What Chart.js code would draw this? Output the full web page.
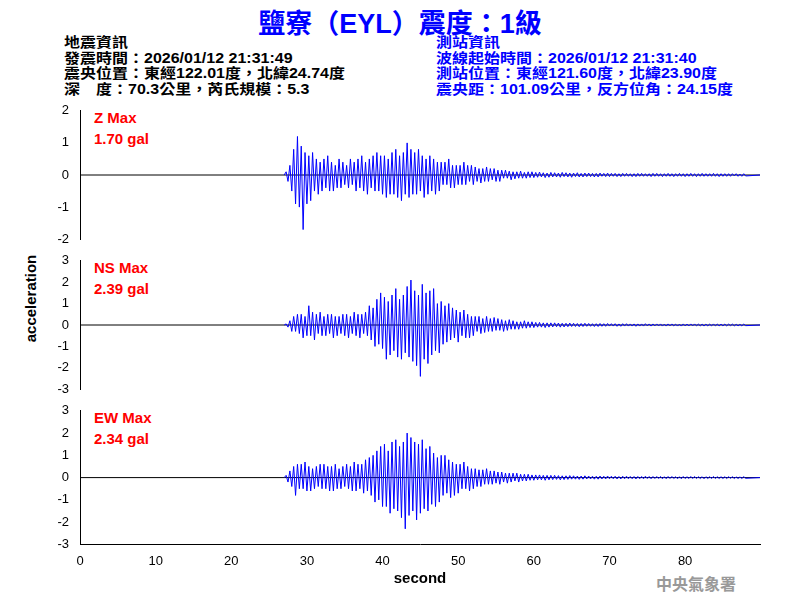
<!DOCTYPE html>
<html><head><meta charset="utf-8">
<script src="https://cdn.jsdelivr.net/npm/chart.js@4"></script>
<style>
body{margin:0;width:800px;height:600px;background:#fff;position:relative;overflow:hidden;font-family:"Liberation Sans",Arial,sans-serif}
.t{position:absolute;white-space:nowrap}
canvas{position:absolute}
.info{font-size:16px;font-weight:bold;line-height:18px;transform:scaleY(0.866);transform-origin:0 0;font-family:"Liberation Sans","Noto Sans CJK TC",sans-serif}
.lab{color:#f00;font-size:15px;font-weight:bold;line-height:21px}
</style></head><body>
<div class="t" style="left:0;width:800px;top:2px;text-align:center;color:#0000ff;font-size:27px;font-weight:bold;font-family:'Liberation Sans','Noto Sans CJK TC',sans-serif">鹽寮（EYL）震度：1級</div>
<div class="t info" style="left:64px;top:35px;color:#000">地震資訊<br>發震時間：2026/01/12 21:31:49<br>震央位置：東經122.01度，北緯24.74度<br>深　度：70.3公里，芮氏規模：5.3</div>
<div class="t info" style="left:436px;top:35px;color:#0000ff">測站資訊<br>波線起始時間：2026/01/12 21:31:40<br>測站位置：東經121.60度，北緯23.90度<br>震央距：101.09公里，反方位角：24.15度</div>
<div class="t lab" style="left:94px;top:107px">Z Max<br>1.70 gal</div>
<div class="t lab" style="left:94px;top:257px">NS Max<br>2.39 gal</div>
<div class="t lab" style="left:94px;top:407px">EW Max<br>2.34 gal</div>
<div class="t" style="left:-20px;top:290px;width:100px;text-align:center;transform:rotate(-90deg);font-size:15px;font-weight:bold">acceleration</div>
<div class="t" style="left:656px;top:571px;color:#999;font-size:16px;font-weight:bold;font-family:'Noto Sans CJK TC',serif">中央氣象署</div>
<canvas id="c0"></canvas><canvas id="c1"></canvas><canvas id="c2"></canvas>
<script>
const startTime = 27.0, dt = 0.25, endTime = 89.9;
const zValues = [0.1,-0.2,0.3,-0.5, 0.8,-0.9,1.2,-1.0, 0.9,-1.7,0.7,-0.9, 0.6,-0.8,0.7,-0.5, 0.5,-0.6,0.4,-0.5,
 0.5,-0.4,0.6,-0.5, 0.4,-0.5,0.3,-0.4, 0.5,-0.4,0.4,-0.3, 0.3,-0.4,0.5,-0.3, 0.4,-0.5,0.5,-0.4,
 0.6,-0.5,0.4,-0.6, 0.5,-0.4,0.6,-0.5, 0.7,-0.5,0.6,-0.6, 0.6,-0.7,0.5,-0.6, 0.7,-0.6,0.8,-0.7,
 0.6,-0.8,0.7,-0.6, 1.0,-0.7,0.8,-0.6, 0.7,-0.6,0.8,-0.5, 0.6,-0.7,0.5,-0.6, 0.6,-0.5,0.5,-0.6,
 0.4,-0.5,0.4,-0.3, 0.4,-0.3,0.5,-0.4, 0.3,-0.4,0.3,-0.3, 0.3,-0.3,0.4,-0.3, 0.3,-0.2,0.3,-0.3,
 0.25,-0.2,0.2,-0.25, 0.2,-0.2,0.25,-0.2, 0.2,-0.15,0.2,-0.2, 0.15,-0.2,0.15,-0.1, 0.15,-0.1,0.12,-0.15,
 0.1,-0.12,0.1,-0.1, 0.12,-0.1,0.08,-0.1, 0.1,-0.08,0.1,-0.08,
 0.08,-0.07,0.09,-0.06, 0.07,-0.08,0.06,-0.07, 0.08,-0.06,0.07,-0.06, 0.06,-0.07,0.08,-0.05, 0.07,-0.06,0.06,-0.07,
 0.06,-0.05,0.07,-0.06, 0.05,-0.06,0.06,-0.05, 0.06,-0.05,0.05,-0.06, 0.05,-0.06,0.06,-0.04, 0.05,-0.05,0.06,-0.05,
 0.05,-0.04,0.05,-0.05, 0.04,-0.05,0.05,-0.04, 0.05,-0.04,0.04,-0.05, 0.04,-0.05,0.05,-0.04, 0.05,-0.04,0.04,-0.04,
 0.04,-0.05,0.05,-0.04, 0.05,-0.04,0.04,-0.05, 0.04,-0.04,0.05,-0.04, 0.04,-0.05,0.04,-0.04, 0.05,-0.04,0.04,-0.05,
 0.04,-0.04,0.05,-0.04, 0.04,-0.05,0.04,-0.04, 0.05,-0.04,0.04,-0.04, 0.04,-0.04,0.05,-0.04, 0.04,-0.05,0.04,-0.04,
 0.04,-0.04,0.04,-0.04, 0.04,-0.03,0.04,-0.04, 0.03,-0.04,0.04,-0.03];
const nsValues = [0.05,-0.1,0.2,-0.3, 0.4,-0.3,0.5,-0.4, 0.5,-0.6,0.4,-0.5, 0.9,-0.5,0.6,-0.7, 0.5,-0.4,0.6,-0.5,
 0.4,-0.5,0.5,-0.4, 0.5,-0.6,0.4,-0.5, 0.4,-0.4,0.5,-0.5, 0.5,-0.6,0.4,-0.4, 0.6,-0.5,0.5,-0.6,
 0.5,-0.4,0.6,-0.5, 0.9,-0.7,0.8,-1.0, 1.2,-0.9,1.5,-1.1, 1.3,-1.6,1.1,-1.4, 1.4,-1.2,1.7,-1.5,
 1.2,-1.6,1.4,-1.3, 1.8,-1.5,2.1,-1.7, 1.6,-1.9,1.4,-2.4, 1.9,-1.6,1.5,-1.8, 1.6,-1.4,1.7,-1.2,
 1.0,-1.3,1.1,-0.9, 0.9,-0.8,1.0,-0.7, 0.8,-0.6,0.7,-0.8, 0.6,-0.5,0.7,-0.6, 0.5,-0.6,0.4,-0.5,
 0.4,-0.3,0.4,-0.4, 0.3,-0.35,0.4,-0.3, 0.3,-0.3,0.35,-0.25, 0.3,-0.25,0.25,-0.3, 0.2,-0.25,0.25,-0.2,
 0.2,-0.2,0.15,-0.2, 0.15,-0.15,0.2,-0.15, 0.15,-0.12,0.15,-0.12,
 0.12,-0.1,0.12,-0.1, 0.1,-0.12,0.1,-0.1, 0.1,-0.09,0.1,-0.08, 0.09,-0.1,0.08,-0.09, 0.08,-0.08,0.09,-0.07,
 0.08,-0.07,0.07,-0.08, 0.07,-0.07,0.08,-0.06, 0.07,-0.06,0.06,-0.07, 0.06,-0.07,0.07,-0.06, 0.06,-0.06,0.07,-0.05,
 0.06,-0.05,0.06,-0.06, 0.05,-0.06,0.06,-0.05, 0.06,-0.05,0.05,-0.05, 0.05,-0.06,0.05,-0.05, 0.05,-0.05,0.06,-0.04,
 0.05,-0.05,0.05,-0.04, 0.05,-0.04,0.05,-0.05, 0.04,-0.05,0.05,-0.04, 0.05,-0.04,0.04,-0.05, 0.04,-0.05,0.05,-0.04,
 0.04,-0.04,0.05,-0.04, 0.05,-0.04,0.04,-0.04, 0.04,-0.05,0.04,-0.04, 0.04,-0.04,0.05,-0.04, 0.04,-0.04,0.04,-0.04,
 0.04,-0.04,0.04,-0.03, 0.04,-0.04,0.03,-0.04, 0.03,-0.04,0.04,-0.03];
const ewValues = [0.1,-0.2,0.3,-0.4, 0.5,-0.8,0.6,-0.5, 0.6,-0.5,0.7,-0.6, 0.5,-0.6,0.4,-0.5, 0.5,-0.4,0.6,-0.5,
 0.6,-0.5,0.5,-0.6, 0.5,-0.6,0.6,-0.5, 0.4,-0.5,0.5,-0.4, 0.6,-0.5,0.5,-0.6, 0.7,-0.6,0.6,-0.5,
 0.6,-0.7,0.8,-0.6, 0.9,-0.8,1.0,-1.1, 1.2,-1.0,1.4,-1.3, 1.5,-1.3,1.2,-1.6, 1.6,-1.4,1.7,-1.5,
 1.4,-1.8,1.6,-2.3, 2.0,-1.7,1.8,-1.5, 1.6,-1.9,1.5,-1.6, 1.7,-1.4,1.3,-1.5, 1.4,-1.2,1.1,-1.3,
 0.9,-1.1,1.0,-0.8, 1.0,-0.7,0.8,-0.9, 0.7,-0.8,0.6,-0.7, 0.6,-0.5,0.7,-0.5, 0.5,-0.6,0.4,-0.5,
 0.4,-0.4,0.35,-0.4, 0.35,-0.3,0.4,-0.3, 0.3,-0.3,0.3,-0.25, 0.25,-0.3,0.25,-0.2, 0.2,-0.25,0.2,-0.2,
 0.2,-0.15,0.2,-0.2, 0.15,-0.15,0.15,-0.15, 0.15,-0.12,0.12,-0.12,
 0.12,-0.1,0.12,-0.1, 0.1,-0.12,0.1,-0.1, 0.1,-0.09,0.1,-0.08, 0.09,-0.1,0.08,-0.09, 0.08,-0.08,0.09,-0.07,
 0.08,-0.07,0.07,-0.08, 0.07,-0.07,0.08,-0.06, 0.07,-0.06,0.06,-0.07, 0.06,-0.07,0.07,-0.06, 0.06,-0.06,0.07,-0.05,
 0.06,-0.05,0.06,-0.06, 0.05,-0.06,0.06,-0.05, 0.06,-0.05,0.05,-0.05, 0.05,-0.06,0.05,-0.05, 0.05,-0.05,0.06,-0.04,
 0.05,-0.05,0.05,-0.04, 0.05,-0.04,0.05,-0.05, 0.04,-0.05,0.05,-0.04, 0.05,-0.04,0.04,-0.05, 0.04,-0.05,0.05,-0.04,
 0.04,-0.04,0.05,-0.04, 0.05,-0.04,0.04,-0.04, 0.04,-0.05,0.04,-0.04, 0.04,-0.04,0.05,-0.04, 0.04,-0.04,0.04,-0.04,
 0.04,-0.04,0.04,-0.03, 0.04,-0.04,0.03,-0.04, 0.03,-0.04,0.04,-0.03];
const xTicks = [0,10,20,30,40,50,60,70,80];
const panels = [
 {id:'c0', vals:zValues, min:-2, max:2, top:100, h:150, xAxis:false},
 {id:'c1', vals:nsValues, min:-3, max:3, top:250, h:150, xAxis:false},
 {id:'c2', vals:ewValues, min:-3, max:3, top:400, h:188, xAxis:true}
];
function toPts(vals){
  const p=[{x:startTime,y:0}];
  vals.forEach((v,i)=>{const x=startTime+(i+1)*dt; if(x<=endTime)p.push({x,y:v});});
  p.push({x:endTime,y:0});
  return p;
}
panels.forEach(pn=>{
  const c=document.getElementById(pn.id);
  c.style.left='0px';c.style.top=pn.top+'px';c.style.width='800px';c.style.height=pn.h+'px';
  new Chart(c,{type:'line',
    data:{datasets:[
      {data:toPts(pn.vals),borderColor:'#0000ff',borderWidth:1,pointRadius:0,tension:0,order:1},
      {data:[{x:0,y:0},{x:endTime,y:0}],borderColor:'#000',borderWidth:1,pointRadius:0,order:2}]},
    options:{responsive:false,animation:false,devicePixelRatio:1,
      layout:{padding:{top:7,bottom:pn.xAxis?0:7,right:40,left:0}},
      plugins:{legend:{display:false},tooltip:{enabled:false}},
      scales:{
        x:{type:'linear',min:0,max:89.9,grid:{display:false},border:{color:'#000'},
          display:pn.xAxis,
          afterBuildTicks:a=>{a.ticks=xTicks.map(v=>({value:v}));},
          ticks:{color:'#000',font:{size:13},autoSkip:false,padding:1},
          title:{display:true,text:'second',color:'#000',font:{size:15,weight:'bold'},padding:{top:0,bottom:0}}},
        y:{min:pn.min,max:pn.max,grid:{display:false},border:{color:'#000'},
          afterFit:a=>{a.width=80;},
          ticks:{stepSize:1,color:'#000',font:{size:13}}}
      }}});
});
</script></body></html>
